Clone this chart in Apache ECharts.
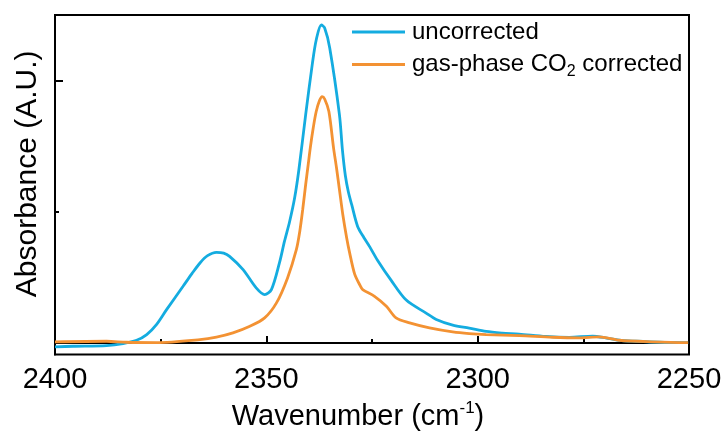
<!DOCTYPE html>
<html>
<head>
<meta charset="utf-8">
<script src="https://cdn.jsdelivr.net/npm/echarts@6/dist/echarts.min.js"></script>
<style>
  html, body { margin: 0; padding: 0; background: #fff; }
  #chart { width: 727px; height: 436px; }
</style>
</head>
<body>
<div id="chart"></div>
<script>
// Uncorrected spectrum: wavenumber (cm-1) and absorbance (arbitrary units)
const uncorrectedWn = [2400.0, 2395.7, 2387.8, 2383.9, 2380.7, 2378.3, 2376.0, 2373.6, 2369.7, 2367.6,
  2365.7, 2363.9, 2361.8, 2360.1, 2358.7, 2355.5, 2352.4, 2350.4, 2348.8, 2346.9,
  2345.7, 2344.5, 2343.3, 2342.3, 2340.7, 2339.1, 2338.2, 2337.0, 2336.2, 2335.0,
  2332.7, 2332.0, 2331.3, 2330.6, 2329.8, 2328.4, 2326.9, 2325.6, 2323.7, 2320.5,
  2316.9, 2312.2, 2309.8, 2305.9, 2302.0, 2298.0, 2294.2, 2290.2, 2283.9, 2278.3,
  2272.8, 2269.7, 2266.5, 2262.6, 2257.1, 2250.8, 2250.2];
const uncorrectedAbs = [-0.0144, -0.0122, -0.0095, -0.0019, 0.0106, 0.0323, 0.0703, 0.1274, 0.2160, 0.2643,
  0.3049, 0.3327, 0.3452, 0.3422, 0.3300, 0.2795, 0.2099, 0.1844, 0.2034, 0.3049,
  0.3878, 0.4620, 0.5532, 0.6597, 0.8688, 1.0646, 1.1540, 1.2110, 1.1996, 1.1236,
  0.8688, 0.7357, 0.6369, 0.5760, 0.5266, 0.4441, 0.4011, 0.3681, 0.3156, 0.2395,
  0.1635, 0.1141, 0.0898, 0.0684, 0.0570, 0.0441, 0.0380, 0.0342, 0.0251, 0.0219,
  0.0259, 0.0198, 0.0106, 0.0068, 0.0030, 0.0019, 0.0019];

// Spectrum after gas-phase CO2 correction
const correctedWn = [2400.0, 2387.8, 2383.1, 2376.0, 2365.7, 2361.8, 2357.9, 2353.9, 2350.4, 2347.6,
  2345.0, 2342.9, 2342.1, 2341.4, 2340.7, 2340.1, 2339.6, 2338.9, 2338.2, 2337.4,
  2336.8, 2336.2, 2335.2, 2334.1, 2333.4, 2332.7, 2331.9, 2331.0, 2330.3, 2329.1,
  2327.8, 2327.2, 2324.4, 2321.6, 2319.3, 2316.1, 2311.4, 2305.9, 2302.0, 2298.0,
  2290.2, 2282.3, 2276.0, 2271.3, 2266.5, 2258.7, 2250.8, 2250.2];
const correctedAbs = [0.0046, 0.0068, 0.0030, 0.0019, 0.0133, 0.0228, 0.0388, 0.0639, 0.0958, 0.1528,
  0.2471, 0.3555, 0.4240, 0.5076, 0.6027, 0.6787, 0.7433, 0.8194, 0.8814, 0.9240,
  0.9384, 0.9293, 0.8814, 0.7433, 0.6673, 0.5837, 0.4886, 0.4011, 0.3441, 0.2624,
  0.2186, 0.2034, 0.1779, 0.1399, 0.0958, 0.0768, 0.0578, 0.0426, 0.0361, 0.0323,
  0.0285, 0.0221, 0.0198, 0.0236, 0.0106, 0.0046, 0.0019, 0.0019];

const seriesNames = ['uncorrected', 'gas-phase CO2 corrected'];
const xTicks = { min: 2250, max: 2400, step: 50 };
const yMajorTicks = [0, 1];
const yMinorTicks = [0.5];

const FONT = "'Liberation Sans', Arial, sans-serif";
const BLUE = '#14ACE0';
const ORANGE = '#F39233';

const pairs = (xs, ys) => xs.map((x, i) => [x, ys[i]]);

const chart = echarts.init(document.getElementById('chart'), null, { renderer: 'canvas' });

const yBase = {
  type: 'value',
  min: -0.044,
  max: 1.249,
  position: 'left',
  splitLine: { show: false },
  axisLabel: { show: false }
};

chart.setOption({
  animation: false,
  backgroundColor: '#fff',
  grid: {
    left: 55, right: 38, top: 15, bottom: 81,
    show: true, borderColor: '#000', borderWidth: 2
  },
  legend: {
    orient: 'vertical',
    left: 352,
    top: 17,
    padding: 0,
    itemGap: 2.6,
    itemWidth: 53,
    itemHeight: 3,
    icon: 'rect',
    textStyle: {
      fontFamily: FONT, fontSize: 24, color: '#000', lineHeight: 30,
      padding: [0, 0, 0, 2],
      rich: {
        t: { fontFamily: FONT, fontSize: 24, color: '#000', lineHeight: 30 },
        b: { fontFamily: FONT, fontSize: 16, color: '#000', lineHeight: 16, verticalAlign: 'bottom' }
      }
    },
    formatter: name => name.indexOf('CO2') >= 0
      ? '{t|gas-phase CO}{b|2}{t| corrected}'
      : name,
    data: seriesNames
  },
  xAxis: {
    type: 'value',
    inverse: true,
    min: xTicks.min,
    max: xTicks.max,
    interval: xTicks.step,
    name: '{n|Wavenumber (cm}{s|-1}{n|)}',
    nameLocation: 'middle',
    nameGap: 42,
    nameTextStyle: {
      padding: [0, 28, 0, 0],
      rich: {
        n: { fontFamily: FONT, fontSize: 29, color: '#000', lineHeight: 34 },
        s: { fontFamily: FONT, fontSize: 17, color: '#000', lineHeight: 20, verticalAlign: 'top' }
      }
    },
    axisLine: { show: true, lineStyle: { color: '#000', width: 2 } },
    axisTick: { show: true, inside: true, length: 7, lineStyle: { color: '#000', width: 2 } },
    minorTick: { show: true, splitNumber: 2, length: 4, lineStyle: { color: '#000', width: 2 } },
    axisLabel: {
      fontFamily: FONT, fontSize: 29, color: '#000', margin: 11,
      formatter: v => String(v)
    },
    splitLine: { show: false },
    minorSplitLine: { show: false }
  },
  yAxis: [
    Object.assign({}, yBase, {
      name: 'Absorbance (A.U.)',
      nameLocation: 'middle',
      nameGap: 12,
      nameTextStyle: { fontFamily: FONT, fontSize: 30, color: '#000', padding: [0, 0, 0, 22] },
      axisLine: { show: true, lineStyle: { color: '#000', width: 2 } },
      axisTick: { show: true, inside: true, length: 8, customValues: yMajorTicks, lineStyle: { color: '#000', width: 2 } }
    }),
    Object.assign({}, yBase, {
      axisLine: { show: false },
      axisTick: { show: true, inside: true, length: 4, customValues: yMinorTicks, lineStyle: { color: '#000', width: 2 } }
    })
  ],
  series: [
    {
      name: seriesNames[0],
      type: 'line',
      yAxisIndex: 0,
      data: pairs(uncorrectedWn, uncorrectedAbs),
      symbol: 'none',
      smooth: 0.3,
      lineStyle: { color: BLUE, width: 2.8 },
      itemStyle: { color: BLUE },
      z: 3
    },
    {
      name: seriesNames[1],
      type: 'line',
      yAxisIndex: 0,
      data: pairs(correctedWn, correctedAbs),
      symbol: 'none',
      smooth: 0.3,
      lineStyle: { color: ORANGE, width: 2.8 },
      itemStyle: { color: ORANGE },
      z: 4
    }
  ]
});
</script>
</body>
</html>
